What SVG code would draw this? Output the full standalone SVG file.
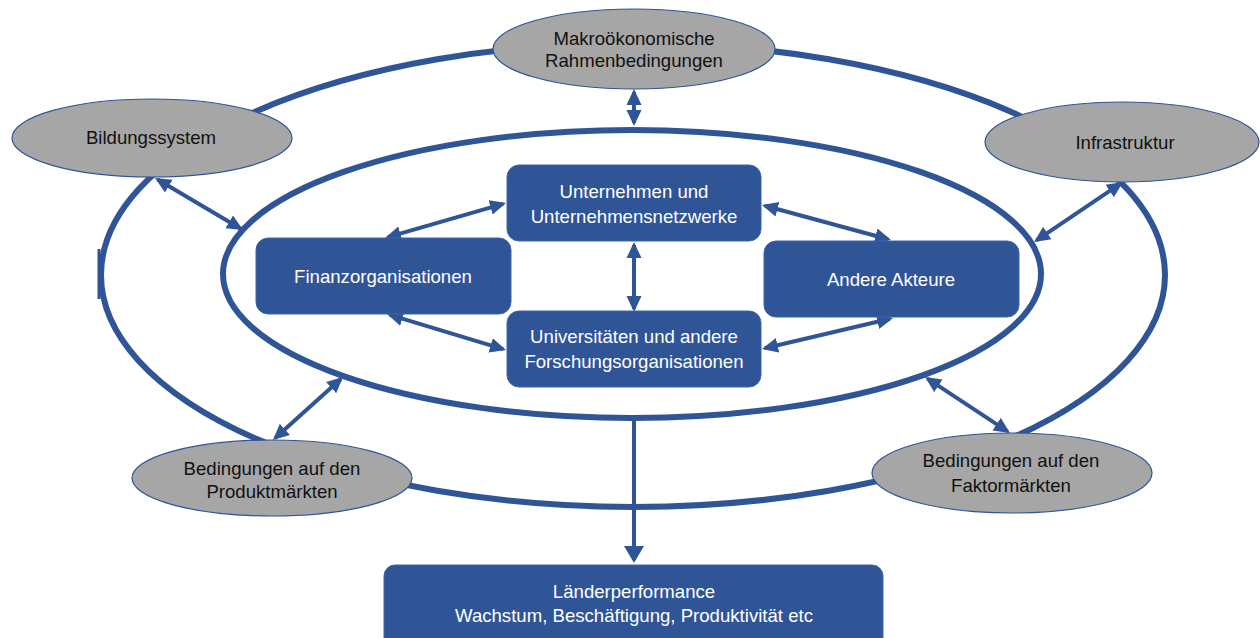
<svg xmlns="http://www.w3.org/2000/svg" width="1260" height="638" viewBox="0 0 1260 638">
<style>
.ring{fill:none;stroke:#2F5597;stroke-width:6}
.oval{fill:#A6A6A6;stroke:#2F5597;stroke-width:1.2}
.box{fill:#2F5597;stroke:#3A64AC;stroke-width:1}
.conn{stroke:#2F5597;stroke-width:4;fill:none}
.t{font-family:"Liberation Sans",Arial,sans-serif;font-size:18.6px;text-anchor:middle}
.dk{fill:#111}
.wt{fill:#fff}
</style>
<defs>
<marker id="ah" viewBox="0 0 16 16" refX="13" refY="8" markerWidth="16" markerHeight="16" markerUnits="userSpaceOnUse" orient="auto-start-reverse">
<path d="M0,0.5 L16,8 L0,15.5 z" fill="#2F5597"/>
</marker>
<marker id="ahb" viewBox="0 0 17 20" refX="14" refY="10" markerWidth="17" markerHeight="20" markerUnits="userSpaceOnUse" orient="auto">
<path d="M0,0 L17,10 L0,20 z" fill="#2F5597"/>
</marker>
</defs>

<g id="rings">
<ellipse class="ring" cx="633" cy="275" rx="532" ry="232"/>
<rect x="97.5" y="249" width="3" height="50" fill="#2F5597"/>
<ellipse class="ring" cx="632" cy="274" rx="409" ry="144"/>
</g>

<g id="connectors">
<line class="conn" x1="634" y1="92" x2="634" y2="123" marker-start="url(#ah)" marker-end="url(#ah)"/>
<line class="conn" x1="157.6" y1="179.5" x2="240.4" y2="228.5" marker-start="url(#ah)" marker-end="url(#ah)"/>
<line class="conn" x1="1120.5" y1="183.7" x2="1036.5" y2="240.3" marker-start="url(#ah)" marker-end="url(#ah)"/>
<line class="conn" x1="275.2" y1="438" x2="340.8" y2="379" marker-start="url(#ah)" marker-end="url(#ah)"/>
<line class="conn" x1="1007.5" y1="431.3" x2="927.5" y2="378.7" marker-start="url(#ah)" marker-end="url(#ah)"/>
<line class="conn" x1="503.1" y1="203.8" x2="387.9" y2="237.2" marker-start="url(#ah)" marker-end="url(#ah)"/>
<line class="conn" x1="764.9" y1="205.8" x2="888.1" y2="239.2" marker-start="url(#ah)" marker-end="url(#ah)"/>
<line class="conn" x1="634" y1="245" x2="634" y2="309" marker-start="url(#ah)" marker-end="url(#ah)"/>
<line class="conn" x1="389.9" y1="314.9" x2="503.1" y2="349.1" marker-start="url(#ah)" marker-end="url(#ah)"/>
<line class="conn" x1="890.1" y1="318.7" x2="764.9" y2="348.3" marker-start="url(#ah)" marker-end="url(#ah)"/>
<line class="conn" x1="634" y1="418" x2="634" y2="560" stroke-width="5" marker-end="url(#ahb)"/>
</g>

<g id="makro">
<ellipse class="oval" cx="634" cy="49" rx="141" ry="40"/>
<text class="t dk" x="634" y="45">Makroökonomische</text>
<text class="t dk" x="634" y="67">Rahmenbedingungen</text>
</g>
<g id="bildung">
<ellipse class="oval" cx="152" cy="138" rx="140" ry="39"/>
<text class="t dk" x="151" y="144">Bildungssystem</text>
</g>
<g id="infra">
<ellipse class="oval" cx="1122" cy="142" rx="137" ry="40"/>
<text class="t dk" x="1125" y="149">Infrastruktur</text>
</g>
<g id="produkt">
<ellipse class="oval" cx="272" cy="478" rx="140" ry="38"/>
<text class="t dk" x="272" y="475">Bedingungen auf den</text>
<text class="t dk" x="272" y="498">Produktmärkten</text>
</g>
<g id="faktor">
<ellipse class="oval" cx="1012" cy="473" rx="140" ry="40"/>
<text class="t dk" x="1011" y="467">Bedingungen auf den</text>
<text class="t dk" x="1011" y="492">Faktormärkten</text>
</g>

<g id="unternehmen">
<rect class="box" x="507" y="165" width="254" height="76" rx="12"/>
<text class="t wt" x="634" y="198">Unternehmen und</text>
<text class="t wt" x="634" y="223">Unternehmensnetzwerke</text>
</g>
<g id="finanz">
<rect class="box" x="256" y="238" width="255" height="76" rx="12"/>
<text class="t wt" x="383" y="283">Finanzorganisationen</text>
</g>
<g id="andere">
<rect class="box" x="764" y="241" width="255" height="76" rx="12"/>
<text class="t wt" x="891" y="286">Andere Akteure</text>
</g>
<g id="univ">
<rect class="box" x="507" y="311" width="254" height="76" rx="12"/>
<text class="t wt" x="634" y="343">Universitäten und andere</text>
<text class="t wt" x="634" y="368">Forschungsorganisationen</text>
</g>
<g id="laender">
<rect class="box" x="384" y="565" width="499" height="85" rx="11"/>
<text class="t wt" x="634" y="598">Länderperformance</text>
<text class="t wt" x="634" y="622">Wachstum, Beschäftigung, Produktivität etc</text>
</g>
</svg>
